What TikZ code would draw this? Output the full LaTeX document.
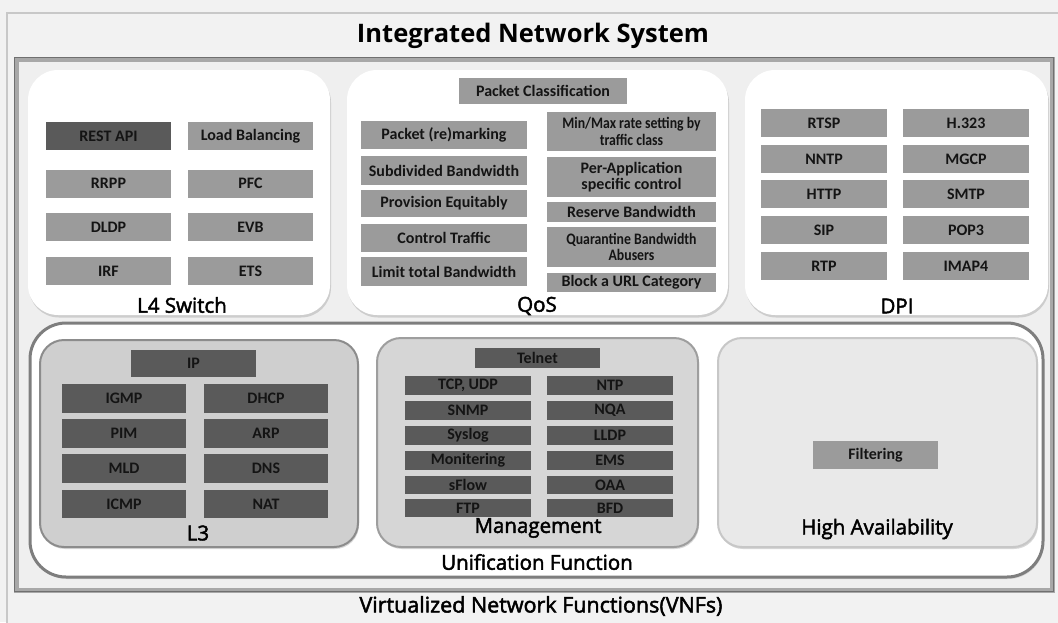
\documentclass[tikz,border=0pt]{standalone}
\usepackage{fontspec}
\setmainfont{Carlito}
\newfontfamily\headfont{Open Sans}[FakeBold=2.2]
\newfontfamily\titlefont{Open Sans}
\newfontfamily\condfont{Carlito}[FakeStretch=0.86]
\usetikzlibrary{shadows}

\definecolor{pagebg}{HTML}{F2F2F2}
\definecolor{pageline}{HTML}{C8C8C8}
\definecolor{framebg}{HTML}{EFEFEF}
\definecolor{frameout}{HTML}{707070}
\definecolor{framein}{HTML}{A8A8A8}
\definecolor{midgray}{HTML}{9B9B9B}
\definecolor{darkgray}{HTML}{5A5A5A}
\definecolor{lthree}{HTML}{CFCFCF}
\definecolor{mgmt}{HTML}{D6D6D6}
\definecolor{hafill}{HTML}{E9E9E9}
\definecolor{inktext}{HTML}{141414}

\tikzset{
  panel/.style={draw=none, fill=white, rounded corners=30pt, inner sep=0pt,
    drop shadow={opacity=0.30, shadow xshift=1pt, shadow yshift=-2.5pt}},
  subpanel/.style={rounded corners=24pt, inner sep=0pt, line width=2pt,
    drop shadow={opacity=0.30, shadow xshift=1pt, shadow yshift=-2pt}},
  itm/.style={rectangle, fill=midgray, inner sep=0pt, align=center,
    text=inktext, font=\fontsize{16}{16.5}\selectfont\bfseries},
  ditm/.style={itm, fill=darkgray},
  cond/.style={font=\condfont\fontsize{16}{16.5}\selectfont\bfseries},
  head/.style={inner sep=0pt, text=black, font=\headfont\fontsize{20.5}{24}\selectfont},
  bighead/.style={inner sep=0pt, text=black, font=\titlefont\bfseries\fontsize{25.5}{30}\selectfont},
}

\begin{document}
\begin{tikzpicture}[x=1pt, y=-1pt]
\useasboundingbox (0,0) rectangle (1058,622);

% page and frames
\fill[pagebg] (0,0) rectangle (1058,622);
\draw[pageline, line width=1.5pt, fill=pagebg] (7,13) rectangle (1066,632);
\fill[framebg] (16,59) rectangle (1052,590);
\draw[framein, line width=5pt] (16,59) rectangle (1052,590);
\draw[frameout, line width=1.6pt] (14.5,57.5) rectangle (1053.5,591.5);

\node[bighead] (title) at (533,36) {Integrated Network System};

% upper panels
\node[panel, minimum width=302pt, minimum height=245pt] (l4) at (179,192.5) {};
\node[panel, minimum width=381pt, minimum height=245pt] (qos) at (537.5,192.5) {};
\node[panel, minimum width=303pt, minimum height=245pt] (dpi) at (896.5,192.5) {};

% L4 switch
\node[ditm, minimum width=125pt, minimum height=28pt] (rest) at (108.5,136) {REST API};
\node[itm, minimum width=125pt, minimum height=28pt] (lb) at (250.5,136) {Load Balancing};
\node[itm, minimum width=125pt, minimum height=28pt] (rrpp) at (108.5,183.5) {RRPP};
\node[itm, minimum width=125pt, minimum height=28pt] (pfc) at (250.5,183.5) {PFC};
\node[itm, minimum width=125pt, minimum height=28pt] (dldp) at (108.5,227) {DLDP};
\node[itm, minimum width=125pt, minimum height=28pt] (evb) at (250.5,227) {EVB};
\node[itm, minimum width=125pt, minimum height=28pt] (irf) at (108.5,271) {IRF};
\node[itm, minimum width=125pt, minimum height=28pt] (ets) at (250.5,271) {ETS};
\node[head] (l4lbl) at (182,305) {L4 Switch};

% QoS
\node[itm, minimum width=168pt, minimum height=26pt] (pcls) at (543,91) {Packet Classification};
\node[itm, minimum width=166pt, minimum height=28pt] (remark) at (444,135) {Packet (re)marking};
\node[itm, minimum width=166pt, minimum height=29pt] (subbw) at (444,170.5) {Subdivided Bandwidth};
\node[itm, minimum width=166pt, minimum height=27pt] (prov) at (444,203.5) {Provision Equitably};
\node[itm, minimum width=166pt, minimum height=28pt] (ctrl) at (444,238) {Control Traffic};
\node[itm, minimum width=166pt, minimum height=29pt] (limit) at (444,271.5) {Limit total Bandwidth};
\node[itm, cond, minimum width=169pt, minimum height=39pt] (minmax) at (631.5,131.5) {Min/Max rate setting by\\traffic class};
\node[itm, minimum width=169pt, minimum height=40pt] (perapp) at (631.5,177) {Per-Application\\specific control};
\node[itm, minimum width=169pt, minimum height=20pt] (resbw) at (631.5,212) {Reserve Bandwidth};
\node[itm, cond, minimum width=169pt, minimum height=40pt] (quar) at (631.5,247) {Quarantine Bandwidth\\Abusers};
\node[itm, minimum width=169pt, minimum height=19pt] (block) at (631.5,282.5) {Block a URL Category};
\node[head] (qoslbl) at (537,306) {QoS};

% DPI
\node[itm, minimum width=126pt, minimum height=28pt] (rtsp) at (824,123) {RTSP};
\node[itm, minimum width=126pt, minimum height=28pt] (h323) at (966,123) {H.323};
\node[itm, minimum width=126pt, minimum height=28pt] (nntp) at (824,159) {NNTP};
\node[itm, minimum width=126pt, minimum height=28pt] (mgcp) at (966,159) {MGCP};
\node[itm, minimum width=126pt, minimum height=28pt] (http) at (824,194) {HTTP};
\node[itm, minimum width=126pt, minimum height=28pt] (smtp) at (966,194) {SMTP};
\node[itm, minimum width=126pt, minimum height=28pt] (sip) at (824,230) {SIP};
\node[itm, minimum width=126pt, minimum height=28pt] (pop3) at (966,230) {POP3};
\node[itm, minimum width=126pt, minimum height=28pt] (rtp) at (824,266) {RTP};
\node[itm, minimum width=126pt, minimum height=28pt] (imap) at (966,266) {IMAP4};
\node[head] (dpilbl) at (897,306) {DPI};

% unification function
\node[draw=frameout!90, line width=3pt, fill=white, rounded corners=36pt, inner sep=0pt,
  minimum width=1013pt, minimum height=254pt,
  drop shadow={opacity=0.25, shadow xshift=1pt, shadow yshift=-2pt}] (unif) at (536.5,450) {};
\node[head] (uniflbl) at (537,562) {Unification Function};

% L3
\node[subpanel, draw=black!45, fill=lthree, minimum width=318pt, minimum height=207pt] (l3) at (199,443.5) {};
\node[ditm, minimum width=125pt, minimum height=27pt] (ip) at (193.5,363.5) {IP};
\node[ditm, minimum width=124pt, minimum height=29pt] (igmp) at (124,398.5) {IGMP};
\node[ditm, minimum width=124pt, minimum height=29pt] (dhcp) at (266,398.5) {DHCP};
\node[ditm, minimum width=124pt, minimum height=29pt] (pim) at (124,433.5) {PIM};
\node[ditm, minimum width=124pt, minimum height=29pt] (arp) at (266,433.5) {ARP};
\node[ditm, minimum width=124pt, minimum height=29pt] (mld) at (124,468.5) {MLD};
\node[ditm, minimum width=124pt, minimum height=29pt] (dns) at (266,468.5) {DNS};
\node[ditm, minimum width=124pt, minimum height=28pt] (icmp) at (124,504) {ICMP};
\node[ditm, minimum width=124pt, minimum height=28pt] (nat) at (266,504) {NAT};
\node[head] (l3lbl) at (198,533) {L3};

% management
\node[subpanel, draw=black!38, fill=mgmt, minimum width=321pt, minimum height=209pt] (mg) at (537.5,442.5) {};
\node[ditm, minimum width=125pt, minimum height=20pt] (telnet) at (537.5,358) {Telnet};
\node[ditm, minimum width=126pt, minimum height=19pt] (tcp) at (468,385.5) {TCP, UDP};
\node[ditm, minimum width=126pt, minimum height=19pt] (ntp) at (610,385.5) {NTP};
\node[ditm, minimum width=126pt, minimum height=19pt] (snmp) at (468,410.5) {SNMP};
\node[ditm, minimum width=126pt, minimum height=19pt] (nqa) at (610,410.5) {NQA};
\node[ditm, minimum width=126pt, minimum height=19pt] (syslog) at (468,435.5) {Syslog};
\node[ditm, minimum width=126pt, minimum height=19pt] (lldp) at (610,435.5) {LLDP};
\node[ditm, minimum width=126pt, minimum height=19pt] (monit) at (468,460.5) {Monitering};
\node[ditm, minimum width=126pt, minimum height=19pt] (ems) at (610,460.5) {EMS};
\node[ditm, minimum width=126pt, minimum height=18pt] (sflow) at (468,485) {sFlow};
\node[ditm, minimum width=126pt, minimum height=18pt] (oaa) at (610,485) {OAA};
\node[ditm, minimum width=126pt, minimum height=18pt] (ftp) at (468,508) {FTP};
\node[ditm, minimum width=126pt, minimum height=18pt] (bfd) at (610,508) {BFD};
\node[head] (mglbl) at (538,528) {Management};

% high availability
\node[subpanel, draw=black!22, fill=hafill, minimum width=319pt, minimum height=209pt] (ha) at (877.5,442.5) {};
\node[itm, minimum width=125pt, minimum height=28pt] (filt) at (875.5,455) {Filtering};
\node[head] (halbl) at (877,529) {High Availability};

\node[head, font=\headfont\fontsize{21.5}{24}\selectfont] (vnflbl) at (541,606) {Virtualized Network Functions(VNFs)};
\end{tikzpicture}
\end{document}
